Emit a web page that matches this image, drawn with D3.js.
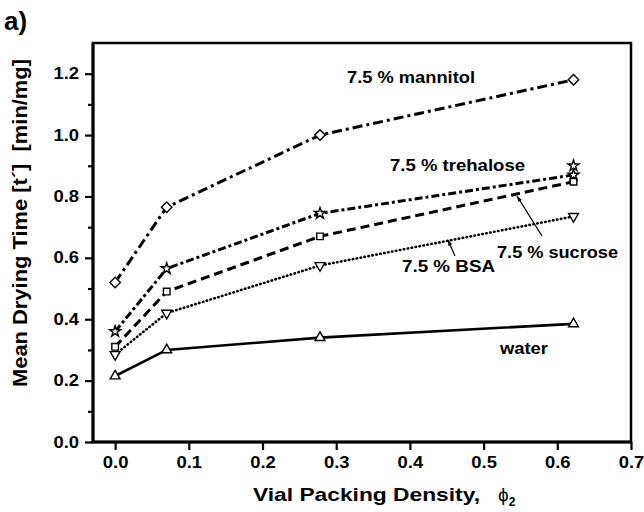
<!DOCTYPE html>
<html>
<head>
<meta charset="utf-8">
<script src="https://cdn.jsdelivr.net/npm/d3@7"></script>
<style>
  body { margin: 0; background: #fff; }
  text { font-family: "Liberation Sans", Arial, sans-serif; font-weight: bold; }
</style>
</head>
<body>
<script>
// vial packing density values
var phi = [0, 0.07, 0.278, 0.622];

var mannitol  = [0.52, 0.765, 1.0, 1.18];
var trehalose = [0.36, 0.565, 0.745, 0.87];
var trehaloseExtra = [[0.622, 0.90]];
var sucrose   = [0.31, 0.49, 0.67, 0.848];
var bsa       = [0.285, 0.42, 0.575, 0.735];
var water     = [0.215, 0.30, 0.34, 0.385];

var xTicks = [0.0, 0.1, 0.2, 0.3, 0.4, 0.5, 0.6, 0.7];
var yTicks = [0.0, 0.2, 0.4, 0.6, 0.8, 1.0, 1.2];
var yMinor = [0.1, 0.3, 0.5, 0.7, 0.9, 1.1];

var W = 644, H = 512;
var pLeft = 93, pRight = 631, pTop = 43, pBottom = 442;

var svg = d3.select("body").append("svg")
    .attr("width", W)
    .attr("height", H);

var x = d3.scaleLinear().domain([-0.03, 0.7]).range([pLeft, pRight]);
var y = d3.scaleLinear().domain([0, 1.3]).range([pBottom, pTop]);

// widen text a bit, the original glyphs are stretched sideways
function stretch(sel, k){
  sel.each(function(){
    var w = this.getComputedTextLength();
    d3.select(this).attr("textLength", w * k).attr("lengthAdjust", "spacingAndGlyphs");
  });
}

// frame
svg.append("rect")
    .attr("x", pLeft).attr("y", pTop)
    .attr("width", pRight - pLeft).attr("height", pBottom - pTop)
    .attr("fill", "none").attr("stroke", "#000").attr("stroke-width", 2.5);
svg.append("path")
    .attr("d", "M" + pLeft + "," + pTop + "V" + pBottom + "H" + pRight)
    .attr("fill", "none").attr("stroke", "#000").attr("stroke-width", 3);

// axes
svg.append("g")
    .attr("transform", "translate(0," + pBottom + ")")
    .call(d3.axisBottom(x).tickValues(xTicks).tickFormat(d3.format(".1f")).tickSize(8).tickPadding(7));
svg.append("g")
    .attr("transform", "translate(" + pLeft + ",0)")
    .call(d3.axisLeft(y).tickValues(yTicks).tickFormat(d3.format(".1f")).tickSize(8).tickPadding(6));
svg.append("g")
    .attr("transform", "translate(" + pLeft + ",0)")
    .call(d3.axisLeft(y).tickValues(yMinor).tickFormat("").tickSize(5));

svg.selectAll(".domain").remove();
svg.selectAll(".tick line").attr("stroke", "#000").attr("stroke-width", 2.2);
var tickText = svg.selectAll(".tick text").attr("font-size", "16px").attr("fill", "#000")
    .style("font-family", "Liberation Sans, Arial, sans-serif").style("font-weight", "bold");
stretch(tickText, 1.15);

// series
var series = [
  { name: "mannitol",  vals: mannitol,  dash: "10,4,3,4", width: 3,   mark: d3.symbolDiamond2 },
  { name: "trehalose", vals: trehalose, dash: "8,3,3,3",  width: 3,   mark: d3.symbolStar },
  { name: "sucrose",   vals: sucrose,   dash: "9,5",      width: 3,   mark: d3.symbolSquare2 },
  { name: "bsa",       vals: bsa,       dash: "0.5,3.5",  width: 2.6, mark: "down", cap: "round" },
  { name: "water",     vals: water,     dash: null,       width: 2.6, mark: d3.symbolTriangle2 }
];

var line = d3.line()
    .x(function(d, i){ return x(phi[i]); })
    .y(function(d){ return y(d); });

function drawMark(g, type, cx, cy){
  var sz = 70, rot = "";
  if (type === "down") { type = d3.symbolTriangle2; rot = " rotate(180)"; }
  if (type === d3.symbolSquare2) sz = 55;
  if (type === d3.symbolStar) sz = 38;
  g.append("path")
    .attr("d", d3.symbol().type(type).size(sz)())
    .attr("transform", "translate(" + cx + "," + cy + ")" + rot)
    .attr("fill", "#fff").attr("stroke", "#000").attr("stroke-width", 1.4);
}

series.forEach(function(s){
  var p = svg.append("path")
      .datum(s.vals)
      .attr("d", line)
      .attr("fill", "none")
      .attr("stroke", "#000")
      .attr("stroke-width", s.width);
  if (s.dash) p.attr("stroke-dasharray", s.dash);
  if (s.cap) p.attr("stroke-linecap", s.cap);
});

series.forEach(function(s){
  var g = svg.append("g");
  s.vals.forEach(function(v, i){ drawMark(g, s.mark, x(phi[i]), y(v)); });
});
trehaloseExtra.forEach(function(d){ drawMark(svg, d3.symbolStar, x(d[0]), y(d[1])); });

// series labels: text, x, baseline, target width
var labels = [
  ["7.5 % mannitol", 347, 83, 128],
  ["7.5 % trehalose", 390, 171, 135],
  ["7.5 % sucrose", 497, 258, 121],
  ["7.5 % BSA", 402, 272, 93],
  ["water", 500, 354, 48]
];
labels.forEach(function(l){
  svg.append("text").attr("x", l[1]).attr("y", l[2])
    .attr("font-size", "17px")
    .attr("textLength", l[3]).attr("lengthAdjust", "spacingAndGlyphs")
    .text(l[0]);
});

// pointer lines
var pointers = [[542, 236, 517, 196], [455, 256, 448, 240]];
pointers.forEach(function(p){
  svg.append("line")
    .attr("x1", p[0]).attr("y1", p[1]).attr("x2", p[2]).attr("y2", p[3])
    .attr("stroke", "#000").attr("stroke-width", 1.2);
  var a = Math.atan2(p[3] - p[1], p[2] - p[0]);
  var hl = 6;
  svg.append("path")
    .attr("d", "M" + p[2] + "," + p[3] +
      "L" + (p[2] - hl * Math.cos(a - 0.35)) + "," + (p[3] - hl * Math.sin(a - 0.35)) +
      "L" + (p[2] - hl * Math.cos(a + 0.35)) + "," + (p[3] - hl * Math.sin(a + 0.35)) + "Z")
    .attr("fill", "#000");
});

// titles
svg.append("text").attr("x", 4).attr("y", 30).attr("font-size", "26px").text("a)");

svg.append("text")
    .attr("transform", "translate(27,223) rotate(-90)")
    .attr("text-anchor", "middle")
    .attr("font-size", "20px")
    .attr("textLength", 328).attr("lengthAdjust", "spacingAndGlyphs")
    .text("Mean Drying Time [t\u00B4]\u00A0\u00A0[min/mg]");

var xt = svg.append("text").attr("x", 253).attr("y", 501).attr("font-size", "19px");
xt.append("tspan").attr("textLength", 227).attr("lengthAdjust", "spacingAndGlyphs").text("Vial Packing Density,");
xt.append("tspan").attr("x", 498).attr("font-weight", "normal").text("\u03D5");
xt.append("tspan").attr("dy", 5).attr("font-size", "12px").text("2");
</script>
</body>
</html>
